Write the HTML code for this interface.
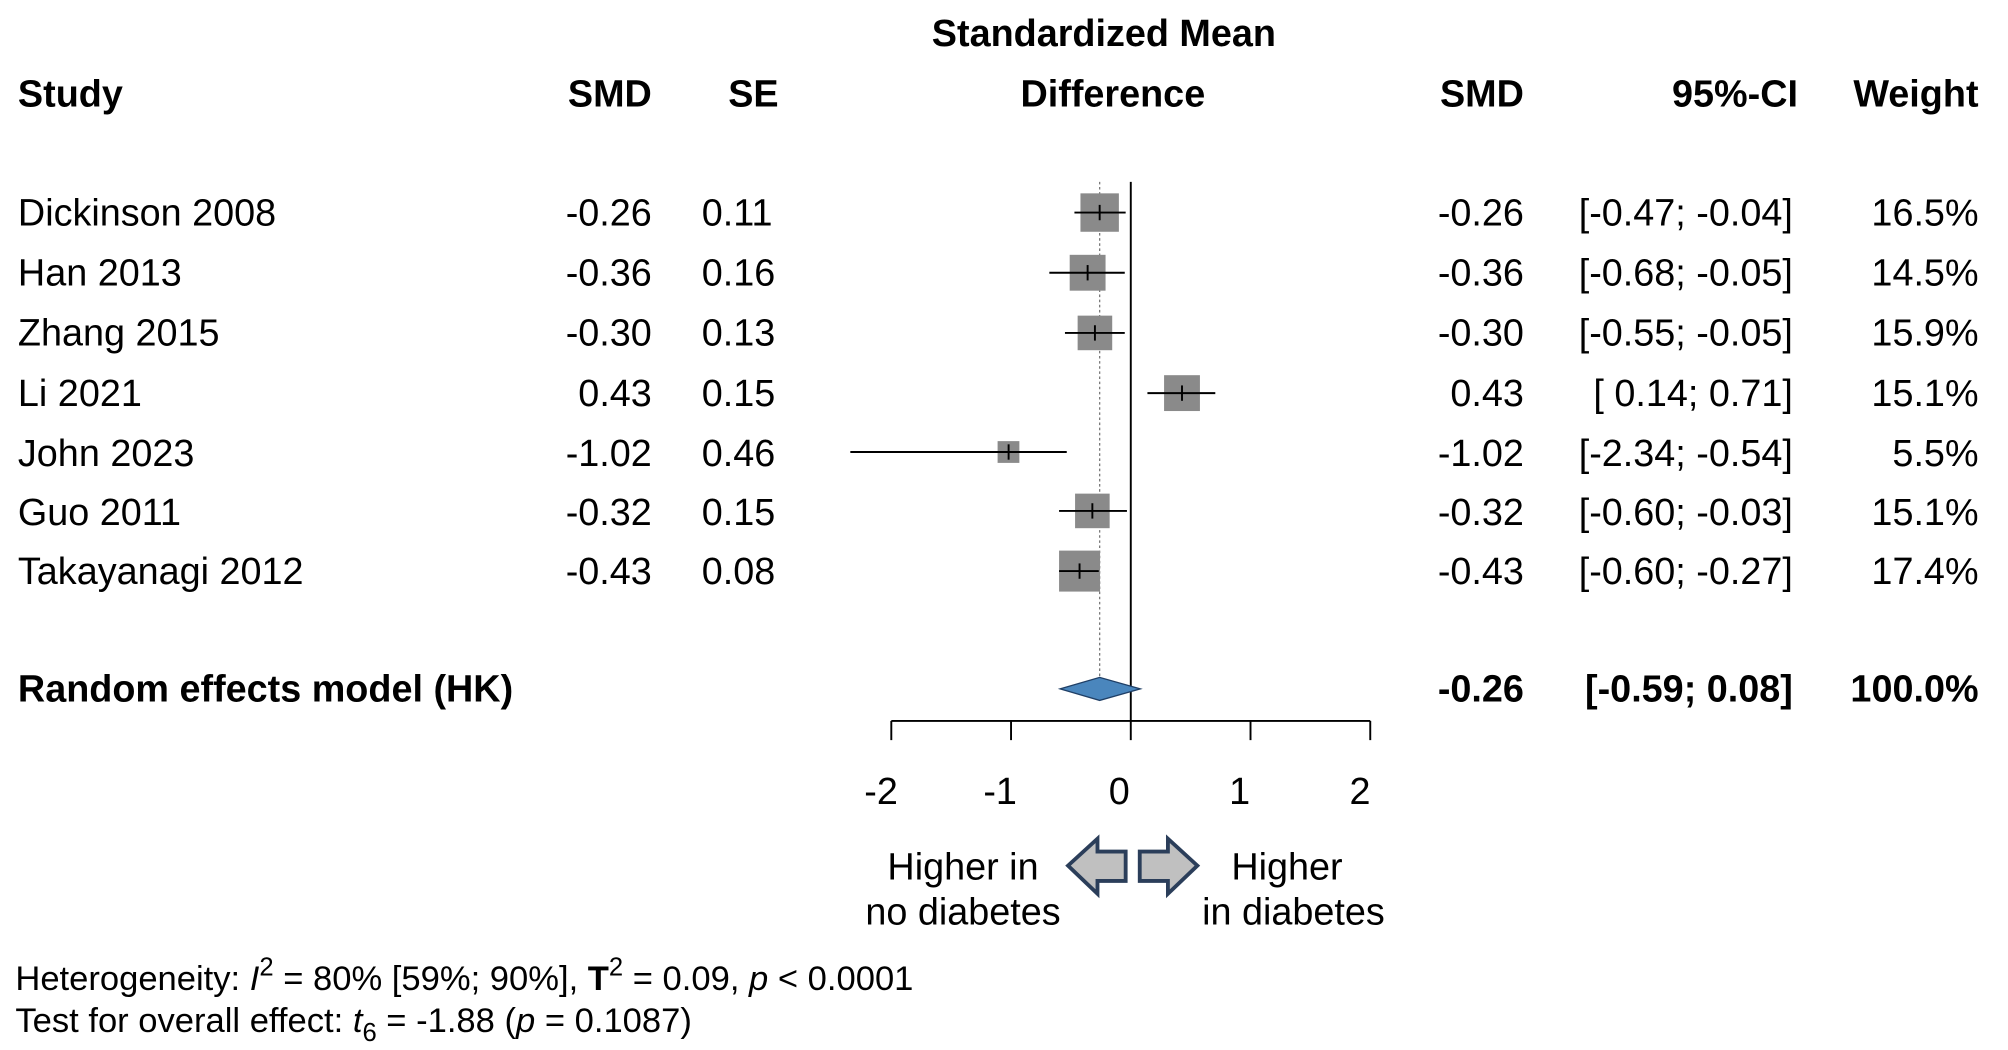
<!DOCTYPE html>
<html><head><meta charset="utf-8"><style>
html,body{margin:0;padding:0;background:#fff;width:2008px;height:1050px;overflow:hidden}
svg{display:block}
text{font-family:"Liberation Sans",Arial,sans-serif;fill:#000}
.h{font-weight:bold;font-size:29.5px}
.r{font-size:29.5px}
.f{font-size:27px}
</style></head><body>
<svg width="2008" height="1050" viewBox="0 0 1568 820" preserveAspectRatio="none" xmlns="http://www.w3.org/2000/svg">
<text class="h" x="862" y="36" text-anchor="middle">Standardized Mean</text>
<text class="h" x="14" y="83">Study</text>
<text class="h" x="509" y="83" text-anchor="end">SMD</text>
<text class="h" x="608" y="83" text-anchor="end">SE</text>
<text class="h" x="869" y="83" text-anchor="middle">Difference</text>
<text class="h" x="1190" y="83" text-anchor="end">SMD</text>
<text class="h" x="1404" y="83" text-anchor="end">95%-CI</text>
<text class="h" x="1545" y="83" text-anchor="end">Weight</text>

<text class="r" x="14" y="176">Dickinson 2008</text><text class="r" x="509" y="176" text-anchor="end">-0.26</text><text class="r" x="548" y="176">0.11</text><text class="r" x="1190" y="176" text-anchor="end">-0.26</text><text class="r" x="1400" y="176" text-anchor="end">[-0.47; -0.04]</text><text class="r" x="1545" y="176" text-anchor="end">16.5%</text>
<text class="r" x="14" y="223">Han 2013</text><text class="r" x="509" y="223" text-anchor="end">-0.36</text><text class="r" x="548" y="223">0.16</text><text class="r" x="1190" y="223" text-anchor="end">-0.36</text><text class="r" x="1400" y="223" text-anchor="end">[-0.68; -0.05]</text><text class="r" x="1545" y="223" text-anchor="end">14.5%</text>
<text class="r" x="14" y="270">Zhang 2015</text><text class="r" x="509" y="270" text-anchor="end">-0.30</text><text class="r" x="548" y="270">0.13</text><text class="r" x="1190" y="270" text-anchor="end">-0.30</text><text class="r" x="1400" y="270" text-anchor="end">[-0.55; -0.05]</text><text class="r" x="1545" y="270" text-anchor="end">15.9%</text>
<text class="r" x="14" y="317">Li 2021</text><text class="r" x="509" y="317" text-anchor="end">0.43</text><text class="r" x="548" y="317">0.15</text><text class="r" x="1190" y="317" text-anchor="end">0.43</text><text class="r" x="1400" y="317" text-anchor="end">[ 0.14;  0.71]</text><text class="r" x="1545" y="317" text-anchor="end">15.1%</text>
<text class="r" x="14" y="364">John 2023</text><text class="r" x="509" y="364" text-anchor="end">-1.02</text><text class="r" x="548" y="364">0.46</text><text class="r" x="1190" y="364" text-anchor="end">-1.02</text><text class="r" x="1400" y="364" text-anchor="end">[-2.34; -0.54]</text><text class="r" x="1545" y="364" text-anchor="end">5.5%</text>
<text class="r" x="14" y="410">Guo 2011</text><text class="r" x="509" y="410" text-anchor="end">-0.32</text><text class="r" x="548" y="410">0.15</text><text class="r" x="1190" y="410" text-anchor="end">-0.32</text><text class="r" x="1400" y="410" text-anchor="end">[-0.60; -0.03]</text><text class="r" x="1545" y="410" text-anchor="end">15.1%</text>
<text class="r" x="14" y="456">Takayanagi 2012</text><text class="r" x="509" y="456" text-anchor="end">-0.43</text><text class="r" x="548" y="456">0.08</text><text class="r" x="1190" y="456" text-anchor="end">-0.43</text><text class="r" x="1400" y="456" text-anchor="end">[-0.60; -0.27]</text><text class="r" x="1545" y="456" text-anchor="end">17.4%</text>
<text class="h" x="14" y="548">Random effects model (HK)</text>
<text class="h" x="1190" y="548" text-anchor="end">-0.26</text>
<text class="h" x="1400" y="548" text-anchor="end">[-0.59;  0.08]</text>
<text class="h" x="1545" y="548" text-anchor="end">100.0%</text>

<line x1="883" y1="142" x2="883" y2="578" stroke="#000" stroke-width="1.5"/>
<line x1="858.7" y1="142" x2="858.7" y2="535" stroke="#777" stroke-width="1" stroke-dasharray="2,2"/>
<g fill="#8a8a8a">
<rect x="843.7" y="151" width="30" height="30"/>
<rect x="835.3" y="199" width="28" height="28"/>
<rect x="841.5" y="246.5" width="27" height="27"/>
<rect x="909" y="293" width="28" height="28"/>
<rect x="779" y="344.5" width="17" height="17"/>
<rect x="839.5" y="385.5" width="27" height="27"/>
<rect x="827" y="430" width="32" height="32"/>
</g>
<g stroke="#000" stroke-width="1.5">
<line x1="839" y1="166" x2="879" y2="166"/><line x1="858.7" y1="160" x2="858.7" y2="172"/>
<line x1="819.4" y1="213" x2="878.3" y2="213"/><line x1="849.3" y1="207" x2="849.3" y2="219"/>
<line x1="831.6" y1="260" x2="878.3" y2="260"/><line x1="855" y1="254" x2="855" y2="266"/>
<line x1="896" y1="307" x2="949" y2="307"/><line x1="923" y1="301" x2="923" y2="313"/>
<line x1="664" y1="353" x2="833" y2="353"/><line x1="787.6" y1="347" x2="787.6" y2="359"/>
<line x1="827" y1="399" x2="880" y2="399"/><line x1="853" y1="393" x2="853" y2="405"/>
<line x1="827" y1="446" x2="858" y2="446"/><line x1="843" y1="440" x2="843" y2="452"/>
</g>
<polygon points="827.8,538 858.7,529 890.5,538 858.7,547" fill="#4a86bd" stroke="#1f3f66" stroke-width="1"/>
<g stroke="#000" stroke-width="1.5" fill="none">
<line x1="696" y1="563" x2="1070" y2="563"/>
<line x1="696" y1="563" x2="696" y2="578"/><line x1="789.5" y1="563" x2="789.5" y2="578"/>
<line x1="976.5" y1="563" x2="976.5" y2="578"/><line x1="1070" y1="563" x2="1070" y2="578"/>
</g>
<text class="r" x="688" y="628" text-anchor="middle">-2</text>
<text class="r" x="781" y="628" text-anchor="middle">-1</text>
<text class="r" x="874" y="628" text-anchor="middle">0</text>
<text class="r" x="968" y="628" text-anchor="middle">1</text>
<text class="r" x="1062" y="628" text-anchor="middle">2</text>
<polygon points="834,676 857,655 857,665 879,665 879,688 857,688 857,698" fill="#c0c0c0" stroke="#2b3e5a" stroke-width="3"/>
<polygon points="935,676 912,655 912,665 890,665 890,688 912,688 912,698" fill="#c0c0c0" stroke="#2b3e5a" stroke-width="3"/>
<text class="r" x="752" y="687" text-anchor="middle">Higher in</text>
<text class="r" x="752" y="722" text-anchor="middle">no diabetes</text>
<text class="r" x="1005" y="687" text-anchor="middle">Higher</text>
<text class="r" x="1010" y="722" text-anchor="middle">in diabetes</text>

<text class="f" x="12" y="773">Heterogeneity: <tspan font-style="italic">I</tspan><tspan dy="-11" font-size="20">2</tspan><tspan dy="11"> = 80% [59%; 90%], </tspan><tspan font-weight="bold">T</tspan><tspan dy="-11" font-size="20">2</tspan><tspan dy="11"> = 0.09, </tspan><tspan font-style="italic">p</tspan> &lt; 0.0001</text>
<text class="f" x="12" y="806">Test for overall effect: <tspan font-style="italic">t</tspan><tspan dy="7" font-size="20">6</tspan><tspan dy="-7"> = -1.88 (</tspan><tspan font-style="italic">p</tspan> = 0.1087)</text>
</svg>
</body></html>
